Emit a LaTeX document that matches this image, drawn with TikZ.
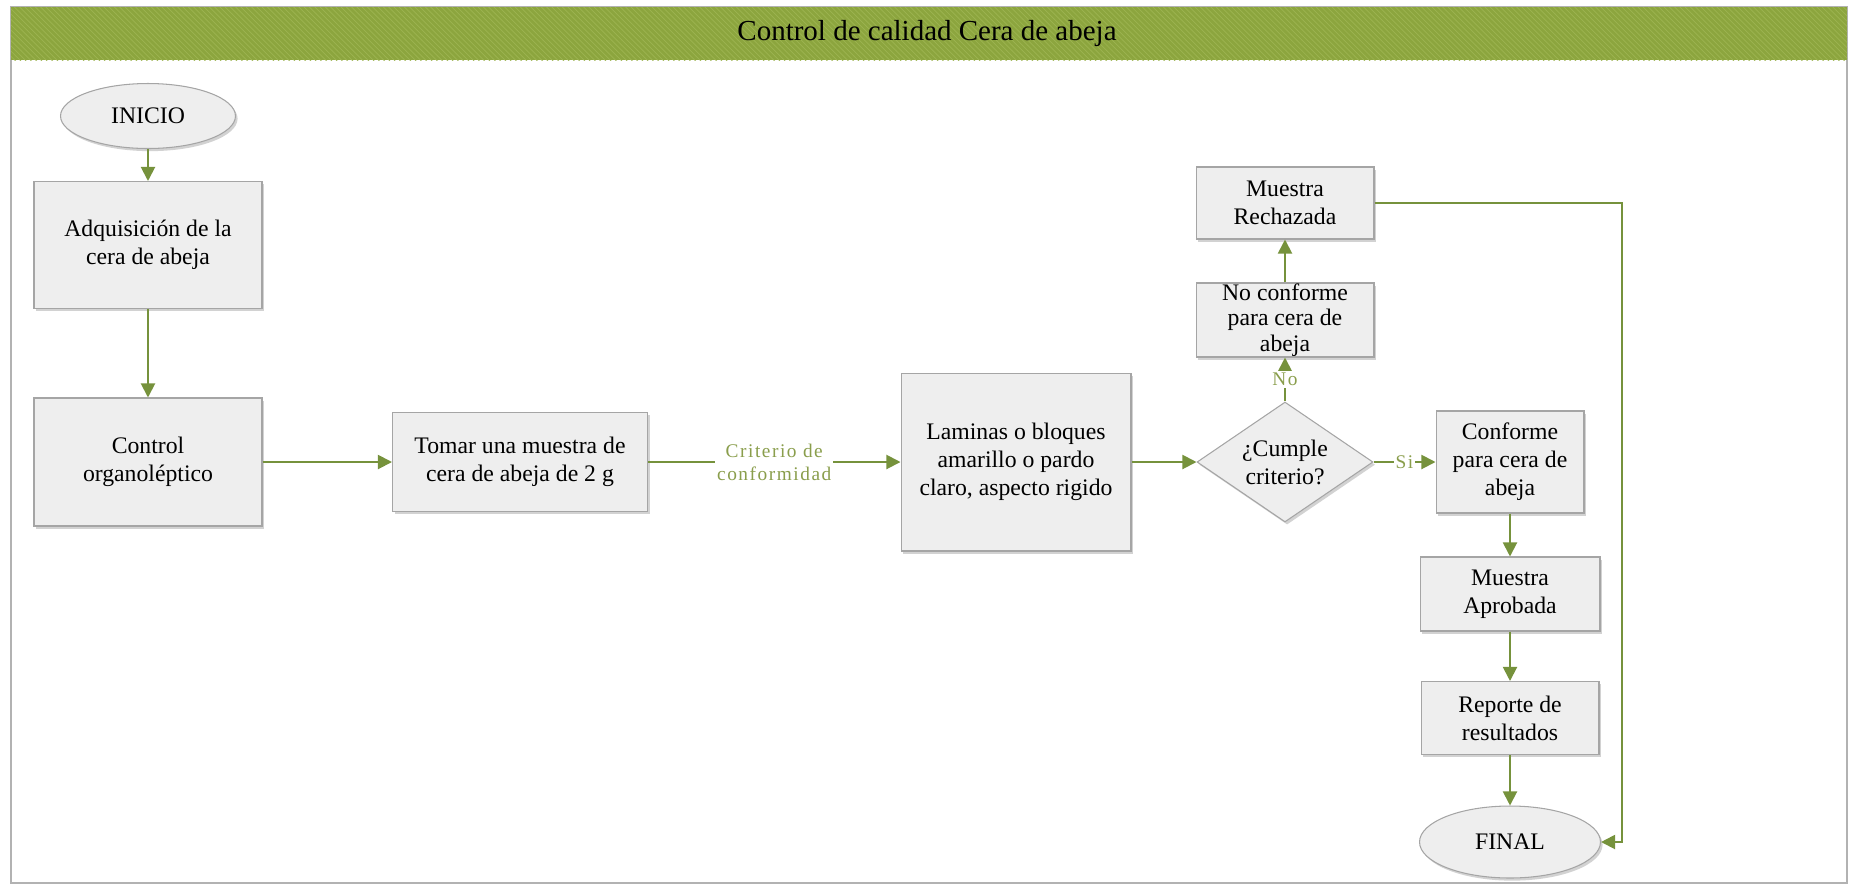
\documentclass[tikz,border=0pt]{standalone}
\usepackage{fontspec}
\setmainfont{Liberation Serif}
\newfontfamily\lblfont[LetterSpace=8]{Liberation Serif}
\usetikzlibrary{shapes.geometric, arrows.meta, shadows, patterns}

\definecolor{olivebar}{HTML}{8CA53E}
\definecolor{olivestripe}{HTML}{9DB451}
\definecolor{olivearrow}{HTML}{76923C}
\definecolor{olivetext}{HTML}{8A9E4C}
\definecolor{boxfill}{HTML}{EEEEEE}
\definecolor{boxline}{HTML}{A5A5A5}

\tikzset{
	procbox/.style={
		shape=rectangle,
		fill=boxfill,
		draw=boxline,
		line width=0.6pt,
		align=center,
		inner sep=2pt,
		font=\fontsize{13.5}{16}\selectfont,
		drop shadow={shadow xshift=1.2pt, shadow yshift=-1.5pt, fill=black!35, opacity=0.5}},
	termnode/.style={procbox, shape=ellipse},
	decnode/.style={procbox, shape=diamond, aspect=1.45, inner sep=0pt},
	flow/.style={draw=olivearrow, line width=1.1pt, -{Triangle[width=8pt,length=8pt]}},
	flowlabel/.style={fill=white, text=olivetext, inner sep=1pt, align=center,
		font=\lblfont\fontsize{11}{13}\selectfont}
}

\begin{document}
\begin{tikzpicture}[x=0.02cm, y=-0.02cm]
	\useasboundingbox (0,0) rectangle (1850,894);
	\draw[draw=black!30, line width=0.8pt] (11,7) rectangle (1847,883);
	\fill[olivebar] (11,7) rectangle (1847,60);
	\fill[pattern=north west lines, pattern color=olivestripe] (11,7) rectangle (1847,60);
	\node[font=\fontsize{16.5}{19}\selectfont] (titulo) at (927,34) {Control de calidad Cera de abeja};
	
	\node[termnode, minimum width=3.5cm, minimum height=1.3cm] (inicio) at (148,116) {INICIO};
	\node[procbox, minimum width=4.56cm, minimum height=2.54cm] (adquis) at (148,245) {Adquisición de la\\cera de abeja};
	\node[procbox, minimum width=4.56cm, minimum height=2.56cm] (organo) at (148,462) {Control\\organoléptico};
	\node[procbox, minimum width=5.1cm, minimum height=1.98cm] (muestra) at (520,462) {Tomar una muestra de\\cera de abeja de 2 g};
	\node[procbox, minimum width=4.6cm, minimum height=3.56cm] (laminas) at (1016,462) {Laminas o bloques\\amarillo o pardo\\claro, aspecto rigido};
	\node[decnode, minimum width=3.52cm, minimum height=2.4cm] (cumple) at (1285,462) {¿Cumple\\criterio?};
	\node[procbox, minimum width=2.96cm, minimum height=2.04cm] (conforme) at (1510,462) {Conforme\\para cera de\\abeja};
	\node[procbox, minimum width=3.56cm, minimum height=1.48cm, inner ysep=0pt,
		font=\fontsize{13.5}{14.5}\selectfont] (noconf) at (1285,320) {No conforme\\para cera de\\abeja};
	\node[procbox, minimum width=3.56cm, minimum height=1.44cm] (rechaz) at (1285,203) {Muestra\\Rechazada};
	\node[procbox, minimum width=3.6cm, minimum height=1.48cm] (aprob) at (1510,594) {Muestra\\Aprobada};
	\node[procbox, minimum width=3.56cm, minimum height=1.46cm] (reporte) at (1510,718) {Reporte de\\resultados};
	\node[termnode, minimum width=3.62cm, minimum height=1.44cm] (final) at (1510,842) {FINAL};
	\coordinate (retorno) at (1622,842);
	
	\draw[flow] (inicio) -- (adquis);
	\draw[flow] (adquis) -- (organo);
	\draw[flow] (organo) -- (muestra);
	\draw[flow] (muestra) -- node[flowlabel] (lblcrit) {Criterio de\\conformidad} (laminas);
	\draw[flow] (laminas) -- (cumple);
	\draw[flow] (cumple) -- node[flowlabel] (lblsi) {Si} (conforme);
	\draw[flow] (cumple) -- node[flowlabel] (lblno) {No} (noconf);
	\draw[flow] (noconf) -- (rechaz);
	\draw[flow] (conforme) -- (aprob);
	\draw[flow] (aprob) -- (reporte);
	\draw[flow] (reporte) -- (final);
	\draw[flow] (rechaz.east) -| (retorno) -- (final.east);
\end{tikzpicture}
\end{document}
